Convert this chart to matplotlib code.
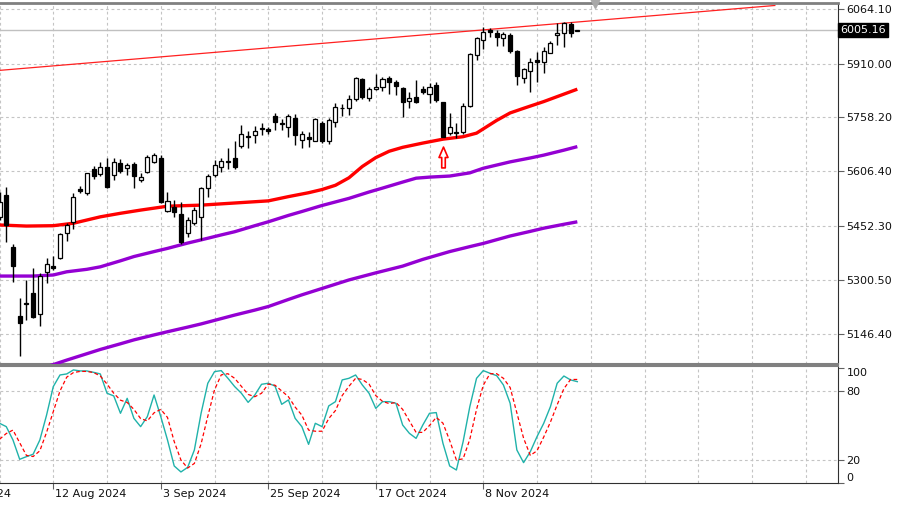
import numpy as np
import matplotlib
matplotlib.use("Agg")
import matplotlib.pyplot as plt
from matplotlib.path import Path

# ---------------- data ----------------
bar_idx = list(range(-8, 79))
opens = [5478, 5540, 5392, 5198, 5235, 5264, 5203, 5323,
         5340, 5361, 5432, 5464, 5556, 5544, 5612, 5599, 5619, 5596,
         5631, 5615, 5626, 5582, 5605, 5633, 5643, 5495, 5505, 5485,
         5432, 5460, 5478, 5558, 5596, 5618, 5636, 5643, 5678, 5706,
         5709, 5725, 5725, 5762, 5742, 5732, 5758, 5695, 5702, 5693,
         5744, 5693, 5746, 5786, 5784, 5810, 5866, 5812, 5838, 5845,
         5869, 5857, 5842, 5806, 5815, 5838, 5824, 5850, 5803, 5715,
         5718, 5718, 5791, 5934, 5977, 6004, 5997, 5982, 5991, 5947,
         5869, 5890, 5920, 5916, 5941, 5991, 5996, 6022, 6003]
highs = [5549, 5563, 5401, 5248, 5300, 5333, 5319, 5361,
         5368, 5432, 5461, 5546, 5565, 5603, 5621, 5633, 5643, 5643,
         5640, 5631, 5633, 5601, 5651, 5657, 5652, 5549, 5525, 5521,
         5478, 5505, 5562, 5599, 5638, 5643, 5671, 5693, 5737, 5721,
         5734, 5743, 5732, 5772, 5753, 5767, 5767, 5721, 5718, 5757,
         5749, 5756, 5798, 5795, 5822, 5872, 5869, 5845, 5881, 5873,
         5875, 5864, 5845, 5831, 5864, 5847, 5855, 5859, 5803, 5772,
         5742, 5799, 5939, 5984, 6014, 6010, 6005, 6000, 5996, 5949,
         5897, 5925, 5944, 5958, 5975, 6026, 6028, 6028, 6006]
lows = [5469, 5408, 5295, 5086, 5187, 5192, 5170, 5292,
        5328, 5358, 5411, 5443, 5544, 5540, 5584, 5593, 5558, 5582,
        5601, 5596, 5558, 5577, 5603, 5629, 5518, 5492, 5478, 5401,
        5420, 5455, 5412, 5533, 5591, 5605, 5612, 5612, 5671, 5671,
        5685, 5709, 5712, 5723, 5723, 5702, 5681, 5671, 5674, 5691,
        5687, 5683, 5732, 5762, 5765, 5806, 5810, 5806, 5836, 5833,
        5824, 5822, 5760, 5784, 5798, 5824, 5800, 5803, 5703, 5709,
        5699, 5711, 5787, 5920, 5951, 5986, 5960, 5960, 5939, 5850,
        5856, 5831, 5859, 5883, 5939, 5963, 5958, 5986, 6002]
closes = [5521, 5455, 5339, 5180, 5232, 5196, 5311, 5344,
          5334, 5431, 5455, 5533, 5550, 5602, 5593, 5619, 5561, 5633,
          5608, 5624, 5593, 5591, 5648, 5652, 5521, 5523, 5492, 5408,
          5469, 5497, 5558, 5593, 5624, 5636, 5632, 5618, 5712, 5702,
          5720, 5729, 5720, 5746, 5739, 5762, 5709, 5712, 5698, 5753,
          5692, 5751, 5789, 5784, 5810, 5869, 5815, 5838, 5845, 5866,
          5857, 5848, 5803, 5812, 5803, 5829, 5843, 5808, 5704, 5730,
          5714, 5791, 5936, 5982, 6000, 6000, 5984, 5994, 5947, 5875,
          5894, 5916, 5916, 5947, 5969, 5996, 6026, 5997, 6005.16]

red_ma_idx = [-8, -4, 0, 3, 7, 10, 13, 17, 22, 27, 32, 35, 38, 40, 42, 44, 46, 48,
              50, 52, 55, 58, 61, 63, 64, 66, 68, 70, 73, 76, 78]
red_ma_val = [5455, 5452, 5453, 5460, 5478, 5488, 5497, 5508, 5511, 5517, 5523,
              5535, 5546, 5555, 5567, 5588, 5620, 5645, 5663, 5674, 5686, 5697,
              5704, 5714, 5726, 5750, 5771, 5784, 5803, 5824, 5838]
pur1_idx = [-8, -3, 0, 2, 5, 7, 10, 12, 15, 17, 20, 22, 25, 27, 30, 32, 35, 37, 40,
            44, 47, 49, 52, 54, 56, 59, 62, 64, 66, 68, 71, 73, 76, 78]
pur1_val = [5311, 5311, 5314, 5323, 5330, 5337, 5354, 5366, 5380, 5389, 5404, 5413,
            5427, 5436, 5453, 5464, 5482, 5493, 5510, 5530, 5548, 5559, 5576, 5587,
            5590, 5593, 5602, 5615, 5624, 5633, 5644, 5652, 5666, 5676]
pur2_idx = [-1, 2, 5, 7, 10, 12, 15, 17, 20, 22, 25, 27, 30, 32, 35, 37, 40, 44, 48,
            52, 55, 59, 62, 64, 68, 71, 73, 76, 78]
pur2_val = [5055, 5074, 5092, 5104, 5120, 5131, 5145, 5154, 5167, 5176, 5191, 5201,
            5215, 5225, 5245, 5258, 5276, 5300, 5320, 5339, 5358, 5380, 5394, 5403,
            5424, 5437, 5446, 5457, 5464]

trend_idx = [-8, 107.4]
trend_val = [5891, 6074]
current_price = 6005.16
arrow_idx = [58]
arrow_price = [5648]
shift_idx = 80.6

stoch_k = [51.9, 49, 37.4, 20.6, 22.9, 25, 37.4, 59,
           83.8, 93.9, 94.8, 98.3, 97.4, 97.4, 96.2, 94.8, 78, 75.7,
           60.6, 73.6, 56.2, 49, 57.7, 76.5, 57.7, 37.4, 14.8, 9.6,
           13.6, 28.7, 60.6, 86.7, 96.8, 97.7, 91, 83.8, 78, 70.1,
           76.5, 85.8, 86.7, 84.3, 68.4, 72.2, 56.2, 49, 33.6, 51.9,
           49, 67, 70.7, 89.6, 91, 93.9, 85.2, 78, 64.9, 70.7,
           70.7, 69.3, 50.4, 43.2, 38.8, 50.4, 60.6, 61.2, 34.5, 14.8,
           11.3, 35.9, 66.4, 91, 97.7, 95.4, 93.3, 85.2, 69.3, 28.7,
           17.7, 27.2, 40.3, 51.9, 66.4, 86.7, 93, 89.6, 88.1]
stoch_d = [38, 43, 46, 35, 24, 23, 28, 44,
           62, 80, 92, 96, 97, 97, 96, 93, 86, 78,
           72, 70, 64, 56, 54, 61, 64, 57, 36, 20,
           13, 17, 34, 58, 81, 94, 95, 91, 84, 77,
           75, 78, 86, 85, 80, 75, 66, 59, 46, 45,
           45, 56, 63, 76, 84, 91, 90, 86, 76, 71,
           69, 70, 64, 54, 44, 44, 50, 57, 52, 37,
           20, 21, 38, 64, 85, 95, 95, 91, 83, 61,
           39, 24, 28, 40, 53, 68, 82, 90, 90]

price_ticks = [6064.10, 5910.00, 5758.20, 5606.40, 5452.30, 5300.50, 5146.40]
osc_ticks = [100, 80, 20, 0]
date_idx = [-16, 0, 16, 32, 48, 64]
date_labels = ["19 Jul 2024", "12 Aug 2024", "3 Sep 2024", "25 Sep 2024",
               "17 Oct 2024", "8 Nov 2024"]

# ---------------- figure ----------------
W, H = 900, 507
fig = plt.figure(figsize=(W / 100, H / 100), dpi=100)
fig.patch.set_facecolor("white")
right_px = 838
ax = fig.add_axes([0, 1 - 364 / H, right_px / W, (364 - 3) / H])
ax2 = fig.add_axes([0, 1 - 483 / H, right_px / W, (483 - 366) / H])

xmin, xmax = -7.93, 116.8
grid_kw = dict(color="#c4c4c4", linestyle=(0, (2.5, 2.5)), linewidth=0.8, zorder=0)

for a in (ax, ax2):
    a.set_xlim(xmin, xmax)
    a.set_facecolor("white")
    for g in range(-8, 117, 8):
        a.axvline(g, **grid_kw)
    a.spines["left"].set_visible(False)
    a.spines["right"].set_color("#303030")
    a.yaxis.tick_right()
    a.tick_params(axis="y", direction="out", length=4, width=0.8, color="#606060",
                  labelsize=8, pad=2, labelcolor="#101010")

# main panel
ax.set_ylim(5063, 6081)
for p in price_ticks:
    ax.axhline(p, **grid_kw)
ax.set_yticks(price_ticks)
ax.set_yticklabels([f"{p:.2f}" for p in price_ticks])
ax.set_xticks([])
ax.spines["top"].set_color("#808080")
ax.spines["top"].set_linewidth(2)
ax.spines["bottom"].set_color("#808080")
ax.spines["bottom"].set_linewidth(1.5)

# current price line
ax.axhline(current_price, color="#c0c0c0", linewidth=1, zorder=1)

# trend line
ax.plot(trend_idx, trend_val, color="#ff2020", linewidth=0.9, zorder=2)

# moving averages
ma_kw = dict(linewidth=2.4, zorder=3, solid_capstyle="butt", solid_joinstyle="round")
ax.plot(pur2_idx, pur2_val, color="#9400d3", **ma_kw)
ax.plot(pur1_idx, pur1_val, color="#9400d3", **ma_kw)
ax.plot(red_ma_idx, red_ma_val, color="#ff0000", **ma_kw)

# candles
o = np.array(opens, float); c = np.array(closes, float)
hi = np.array(highs, float); lo = np.array(lows, float)
xi = np.array(bar_idx, float)
ax.vlines(xi, lo, hi, color="black", linewidth=1.0, zorder=4)
up = c >= o
bottoms = np.minimum(o, c)
heights = np.maximum(np.abs(c - o), 2.0)
ax.bar(xi[up], heights[up], bottom=bottoms[up], width=0.6, color="white",
       edgecolor="black", linewidth=0.9, zorder=5)
ax.bar(xi[~up], heights[~up], bottom=bottoms[~up], width=0.6, color="black",
       edgecolor="black", linewidth=0.9, zorder=5)

# hollow up arrow
arrow_path = Path([(0, 1), (0.43, 0.0), (0.17, 0.0), (0.17, -1), (-0.17, -1),
                   (-0.17, 0.0), (-0.43, 0.0), (0, 1)],
                  [Path.MOVETO] + [Path.LINETO] * 6 + [Path.CLOSEPOLY])
ax.plot(arrow_idx, arrow_price, linestyle="none", marker=arrow_path, markersize=15,
        markerfacecolor="white", markeredgecolor="#ff0000", markeredgewidth=1.2, zorder=6)

# chart shift marker
ax.plot([shift_idx], [1.0], marker="v", markersize=7, color="#a8a8a8",
        transform=ax.get_xaxis_transform(), clip_on=False, zorder=7)

# current price label
ax.text(1.003, current_price, f"{current_price:.2f}", transform=ax.get_yaxis_transform(),
        ha="left", va="center", fontsize=8, color="white",
        bbox=dict(boxstyle="square,pad=0.2", facecolor="black", edgecolor="black"),
        clip_on=False, zorder=8)

# oscillator panel
ax2.set_ylim(0, 101.7)
for lv in (20, 80):
    ax2.axhline(lv, **grid_kw)
ax2.plot(bar_idx, stoch_k, color="#20b2aa", linewidth=1.0, zorder=3)
ax2.plot(bar_idx, stoch_d, color="#ff0000", linewidth=0.9, linestyle=(0, (3, 2)), zorder=4)
ax2.set_yticks(osc_ticks)
ax2.set_yticklabels([str(t) for t in osc_ticks])
for lab in ax2.get_yticklabels():
    if lab.get_text() == "100":
        lab.set_va("top")
    elif lab.get_text() == "0":
        lab.set_va("bottom")
ax2.spines["top"].set_color("#808080")
ax2.spines["top"].set_linewidth(1.5)
ax2.spines["bottom"].set_color("#303030")

in_range = [d for d in date_idx if xmin <= d <= xmax]
ax2.set_xticks(in_range)
ax2.set_xticklabels([""] * len(in_range))
ax2.tick_params(axis="x", direction="out", length=4, width=0.8, color="#606060")
for d, lbl in zip(date_idx, date_labels):
    ax2.annotate(lbl, xy=(d, 0), xycoords=("data", "axes fraction"),
                 xytext=(1.5, -4), textcoords="offset points", ha="left", va="top",
                 fontsize=8, color="#101010", annotation_clip=False)

fig.savefig("out.png", dpi=100, facecolor="white")
